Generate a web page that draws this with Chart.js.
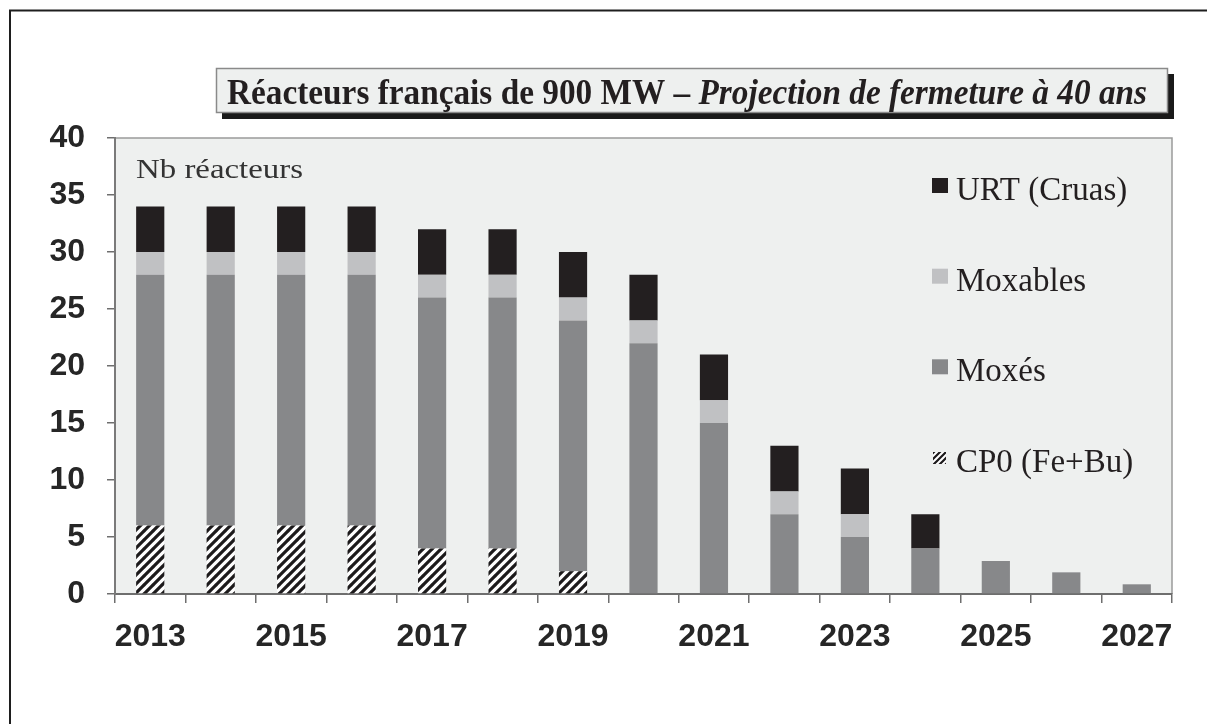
<!DOCTYPE html>
<html><head><meta charset="utf-8">
<script src="https://cdn.jsdelivr.net/npm/chart.js@4.4.1/dist/chart.umd.min.js"></script>
<style>html,body{margin:0;padding:0;background:#fff;} #wrap{width:1207px;height:724px;position:relative;}</style>
</head><body><div id="wrap"><canvas id="c" width="1207" height="724"></canvas></div>
<script>
const years = ['2013','2014','2015','2016','2017','2018','2019','2020','2021','2022','2023','2024','2025','2026','2027'];
const cp0      = [6,6,6,6,4,4,2,0,0,0,0,0,0,0,0];
const moxes    = [22,22,22,22,22,22,22,22,15,7,5,4,2.9,1.9,0.85];
const moxables = [2,2,2,2,2,2,2,2,2,2,2,0,0,0,0];
const urt      = [4,4,4,4,4,4,4,4,4,4,4,3,0,0,0];
const seriesNames = ['CP0 (Fe+Bu)','Moxés','Moxables','URT (Cruas)'];
const yTicks = [0,5,10,15,20,25,30,35,40];
const titleMain = 'Réacteurs français de 900 MW – ';
const titleItalic = 'Projection de fermeture à 40 ans';
const unitLabel = 'Nb réacteurs';

const cv = document.getElementById('c');
const ctx0 = cv.getContext('2d');
function makeHatch(size, lw){
  const c = document.createElement('canvas'); c.width = size; c.height = size;
  const g = c.getContext('2d');
  g.fillStyle = '#ffffff'; g.fillRect(0,0,size,size);
  g.strokeStyle = '#1c1a1b'; g.lineWidth = lw; g.lineCap = 'square';
  g.beginPath();
  for (let k=-1;k<=1;k++){ g.moveTo(k*size, size); g.lineTo(k*size+size, 0); }
  g.stroke();
  return ctx0.createPattern(c, 'repeat');
}
const hatch = makeHatch(9, 3.2);
const hatchSmall = makeHatch(6, 2.2);
const colors = [hatch, '#87888a', '#c0c1c3', '#231f20'];
const seriesData = [cp0, moxes, moxables, urt];

const SERIF = '"Liberation Serif", "Times New Roman", serif';
const SANS = '"Liberation Sans", Arial, sans-serif';

const decor = {
  id: 'decor',
  beforeDraw(chart){
    const c = chart.ctx, a = chart.chartArea;
    c.save();
    c.fillStyle = '#fff'; c.fillRect(0,0,chart.width,chart.height);
    c.strokeStyle = '#1e1e1e'; c.lineWidth = 2;
    c.beginPath(); c.moveTo(10, 724); c.lineTo(10, 10.5); c.lineTo(1207, 10.5); c.stroke();
    c.fillStyle = '#eef0ef';
    c.fillRect(a.left, a.top, a.right - a.left, a.bottom - a.top);
    c.strokeStyle = '#9a9a9a'; c.lineWidth = 1.5;
    c.beginPath(); c.moveTo(a.left, a.top); c.lineTo(a.right, a.top); c.lineTo(a.right, a.bottom); c.stroke();
    // title box
    c.fillStyle = '#1a1a1a'; c.fillRect(222, 74, 952, 45);
    c.fillStyle = '#eef0ef'; c.fillRect(216, 68, 952, 45);
    c.strokeStyle = '#8a8a8a'; c.lineWidth = 1.5; c.strokeRect(216.5, 68.5, 951, 44);
    const f1 = 'bold 36px ' + SERIF, f2 = 'italic bold 36px ' + SERIF;
    c.font = f1; const w1 = c.measureText(titleMain).width;
    c.font = f2; const w2 = c.measureText(titleItalic).width;
    const sx = 920 / (w1 + w2);
    c.save(); c.translate(227, 104); c.scale(sx, 1);
    c.fillStyle = '#231f20'; c.textBaseline = 'alphabetic'; c.textAlign = 'left';
    c.font = f1; c.fillText(titleMain, 0, 0);
    c.font = f2; c.fillText(titleItalic, w1, 0);
    c.restore();
    c.restore();
  },
  afterDraw(chart){
    const c = chart.ctx;
    c.save();
    c.font = '28px ' + SERIF;
    const wu = c.measureText(unitLabel).width;
    c.save(); c.translate(136, 178); c.scale(167 / wu, 1);
    c.fillStyle = '#333'; c.textBaseline = 'alphabetic'; c.fillText(unitLabel, 0, 0);
    c.restore();
    const dsets = chart.data.datasets;
    const baselines = [200, 290.7, 381.3, 472];
    c.font = '33px ' + SERIF; c.textBaseline = 'alphabetic';
    for (let j = 0; j < dsets.length; j++){
      const ds = dsets[dsets.length - 1 - j];
      const b = baselines[j];
      if (j === dsets.length - 1){
        c.fillStyle = hatchSmall; c.fillRect(933, b - 20, 13, 12);
      } else {
        c.fillStyle = ds.backgroundColor; c.fillRect(932, b - 22, 16, 15);
      }
      c.fillStyle = '#231f20';
      c.fillText(ds.label, 956, b);
    }
    c.restore();
  }
};

new Chart(cv, {
  type: 'bar',
  data: {
    labels: years,
    datasets: seriesData.map((d, i) => ({
      label: seriesNames[i], data: d, backgroundColor: colors[i], borderWidth: 0,
      categoryPercentage: 1.0, barPercentage: 0.4
    }))
  },
  options: {
    responsive: false, animation: false, devicePixelRatio: 1,
    layout: { padding: { left: 0, top: 138, right: 35, bottom: 0 } },
    plugins: { legend: { display: false }, tooltip: { enabled: false }, title: { display: false } },
    scales: {
      x: {
        stacked: true, offset: true,
        grid: { display: true, drawOnChartArea: false, drawTicks: true, tickLength: 9, color: '#6e6e6e', lineWidth: 1.5, offset: true },
        border: { display: true, color: '#6e6e6e', width: 2 },
        ticks: {
          autoSkip: false, maxRotation: 0, minRotation: 0, padding: 15, color: '#262626',
          font: { family: SANS, size: 32, weight: 'bold' },
          callback: function(v, i){ return i % 2 === 0 ? this.getLabelForValue(v) : ''; }
        },
        afterFit(s){ s.height = 130; }
      },
      y: {
        stacked: true, min: 0, max: 40,
        afterBuildTicks(s){ s.ticks = yTicks.map(v => ({ value: v })); },
        grid: { display: true, drawOnChartArea: false, drawTicks: true, tickLength: 8, color: '#6e6e6e', lineWidth: 1.5 },
        border: { display: true, color: '#7a7a7a', width: 2 },
        ticks: { padding: 22, color: '#262626', font: { family: SANS, size: 32, weight: 'bold' } },
        afterFit(s){ s.width = 115; }
      }
    }
  },
  plugins: [decor]
});
</script>
</body></html>
